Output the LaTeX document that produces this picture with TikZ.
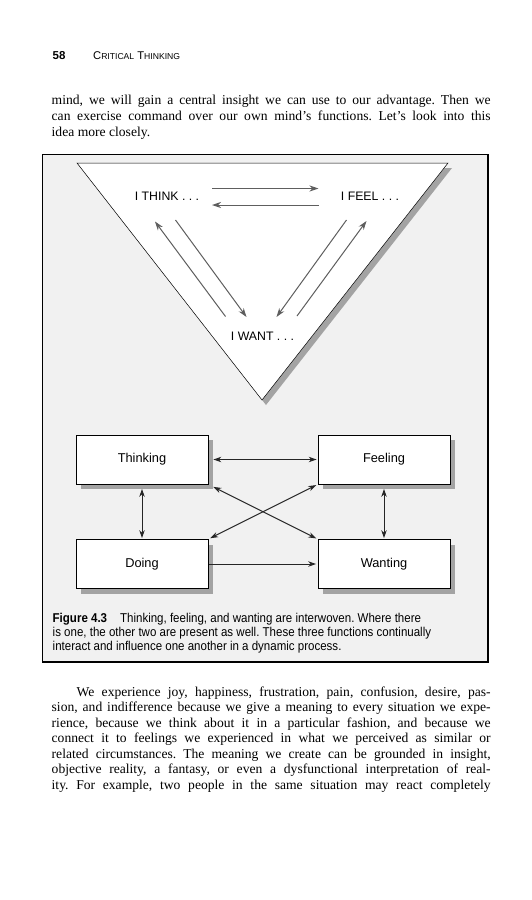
\documentclass[tikz,border=0pt]{standalone}
\usepackage{fontspec}
\setmainfont{Liberation Serif}
\newfontfamily\hel{Liberation Sans}
\newfontfamily\helc[FakeStretch=0.9]{Liberation Sans}
\usetikzlibrary{arrows.meta,shadows}
\definecolor{framefill}{HTML}{F1F1F1}
\definecolor{shadowgrey}{HTML}{A3A3A3}
\definecolor{triarrow}{HTML}{5E5E5E}
\definecolor{boxarrow}{HTML}{262626}
\newcommand{\jline}[1]{\makebox[439pt][s]{#1}}
\newcommand{\jlinei}[1]{\makebox[414pt][s]{#1}}
\frenchspacing
\tikzset{
  body/.style={anchor=base west, inner sep=0pt, font=\fontsize{13.6}{15}\selectfont},
  captext/.style={anchor=base west, inner sep=0pt, font=\helc\fontsize{12.8}{14}\selectfont},
  tlabel/.style={inner sep=0pt, font=\hel\fontsize{12.3}{14}\selectfont},
  fbox/.style={draw=black, line width=0.8pt, fill=white, minimum width=132pt, minimum height=49pt,
    inner sep=0pt, font=\hel\fontsize{12.8}{14}\selectfont,
    drop shadow={shadow xshift=5pt, shadow yshift=-5pt, fill=shadowgrey, opacity=1}},
  barr/.style={draw=boxarrow, line width=1pt, -{Stealth[length=8pt,width=5.5pt]}, boxarrow},
  dbarr/.style={draw=boxarrow, line width=1pt, {Stealth[length=8pt,width=5.5pt]}-{Stealth[length=8pt,width=5.5pt]}, boxarrow},
  garr/.style={draw=triarrow, line width=1pt, -{Stealth[length=9pt,width=6pt]}, triarrow},
}
\begin{document}
\begin{tikzpicture}[x=1pt,y=-1pt]
\useasboundingbox (0,0) rectangle (531,900);
\fill[white] (0,0) rectangle (531,900);

% header
\node[anchor=base west, inner sep=0pt, font=\hel\bfseries\fontsize{11.5}{13}\selectfont] (pnum) at (52.5,59) {58};
\node[anchor=base west, inner sep=0pt, font=\hel\fontsize{11.2}{13}\selectfont] (rhead) at (93,59)
  {C{\fontsize{8.6}{10}\selectfont RITICAL} T{\fontsize{8.6}{10}\selectfont HINKING}};

% top paragraph
\node[body] (p1) at (51.5,104) {\jline{mind, we will gain a central insight we can use to our advantage. Then we}};
\node[body] (p2) at (51.5,120) {\jline{can exercise command over our own mind’s functions. Let’s look into this}};
\node[body] (p3) at (51.5,136) {idea more closely.};

% figure frame
\draw[fill=framefill, line width=1.2pt] (42.5,154.5) rectangle (488,662);

% triangle
\fill[shadowgrey] (81,168) -- (452,168) -- (266,405) -- cycle;
\draw[fill=white, line width=0.5pt] (77,163) -- (448,163) -- (262,400) -- cycle;

\node[tlabel] (think) at (167,196.5) {I THINK . . .};
\node[tlabel] (feel) at (370,196.5) {I FEEL . . .};
\node[tlabel] (want) at (262.5,336) {I WANT . . .};

\coordinate (a1s) at (212,188.5); \coordinate (a1e) at (318.5,188.5);
\coordinate (a2s) at (318.5,205); \coordinate (a2e) at (212,205);
\coordinate (a3s) at (225.5,316.5); \coordinate (a3e) at (155,221.5);
\coordinate (a4s) at (175.5,220); \coordinate (a4e) at (246.5,317);
\coordinate (a5s) at (346.5,220); \coordinate (a5e) at (276.5,317);
\coordinate (a6s) at (297,316); \coordinate (a6e) at (366.5,221);
\draw[garr] (a1s) -- (a1e);
\draw[garr] (a2s) -- (a2e);
\draw[garr] (a3s) -- (a3e);
\draw[garr] (a4s) -- (a4e);
\draw[garr] (a5s) -- (a5e);
\draw[garr] (a6s) -- (a6e);

% boxes
\node[fbox] (th) at (142,459.5) {Thinking};
\node[fbox] (fe) at (384,459.5) {Feeling};
\node[fbox] (do) at (142,564) {Doing};
\node[fbox] (wa) at (384,564) {Wanting};

\draw[dbarr, shorten <=5pt, shorten >=1pt] (th) -- (fe);
\draw[dbarr, shorten <=4.5pt, shorten >=1pt] (th.south) -- (do.north);
\draw[dbarr, shorten <=4.5pt, shorten >=1pt] (fe.south) -- (wa.north);
\draw[barr, shorten <=1pt, shorten >=1.5pt] (do) -- (wa);
\draw[dbarr, shorten <=5.5pt, shorten >=1.5pt] (th.south east) -- (wa.north west);
\draw[dbarr, shorten <=2pt, shorten >=1.5pt] (do.north east) -- (fe.south west);

% caption
\node[captext] (c1) at (52.5,622.5) {{\bfseries Figure 4.3}\hspace{13pt}Thinking, feeling, and wanting are interwoven. Where there};
\node[captext] (c2) at (52.5,636.5) {is one, the other two are present as well. These three functions continually};
\node[captext] (c3) at (52.5,650.5) {interact and influence one another in a dynamic process.};

% bottom paragraph
\node[body] (q1) at (76.5,696) {\jlinei{We experience joy, happiness, frustration, pain, confusion, desire, pas-}};
\node[body] (q2) at (51.5,711.5) {\jline{sion, and indifference because we give a meaning to every situation we expe-}};
\node[body] (q3) at (51.5,727) {\jline{rience, because we think about it in a particular fashion, and because we}};
\node[body] (q4) at (51.5,742.5) {\jline{connect it to feelings we experienced in what we perceived as similar or}};
\node[body] (q5) at (51.5,758) {\jline{related circumstances. The meaning we create can be grounded in insight,}};
\node[body] (q6) at (51.5,773.5) {\jline{objective reality, a fantasy, or even a dysfunctional interpretation of real-}};
\node[body] (q7) at (51.5,789) {\jline{ity. For example, two people in the same situation may react completely}};
\end{tikzpicture}
\end{document}
